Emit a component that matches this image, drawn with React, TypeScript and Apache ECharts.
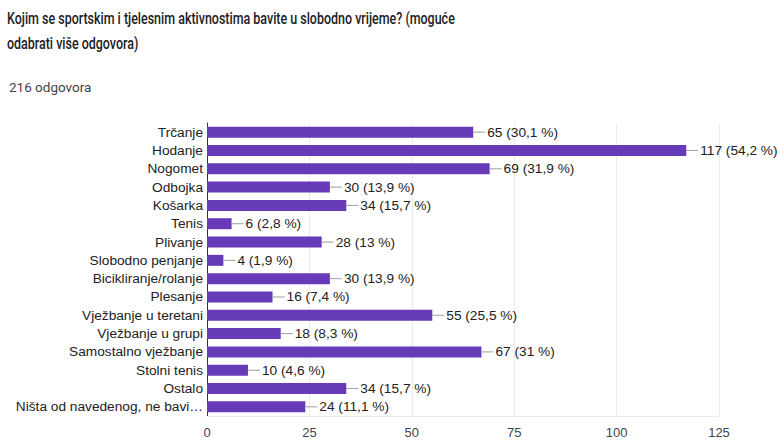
import React, { useEffect, useRef } from 'react';
import * as echarts from 'echarts';

const titleLines = [
  'Kojim se sportskim i tjelesnim aktivnostima bavite u slobodno vrijeme? (moguće',
  'odabrati više odgovora)',
];
const subtitle = '216 odgovora';

const categories = [
  'Trčanje',
  'Hodanje',
  'Nogomet',
  'Odbojka',
  'Košarka',
  'Tenis',
  'Plivanje',
  'Slobodno penjanje',
  'Bicikliranje/rolanje',
  'Plesanje',
  'Vježbanje u teretani',
  'Vježbanje u grupi',
  'Samostalno vježbanje',
  'Stolni tenis',
  'Ostalo',
  'Ništa od navedenog, ne bavi…',
];
const counts = [65, 117, 69, 30, 34, 6, 28, 4, 30, 16, 55, 18, 67, 10, 34, 24];
const percents = ['30,1', '54,2', '31,9', '13,9', '15,7', '2,8', '13', '1,9', '13,9', '7,4', '25,5', '8,3', '31', '4,6', '15,7', '11,1'];
const xMin = 0;
const xMax = 125;
const xInterval = 25;

export default function App() {
  const ref = useRef<HTMLDivElement>(null);
  useEffect(() => {
    document.body.style.margin = '0';
    const chart = echarts.init(ref.current!, null, { renderer: 'svg' });
    chart.setOption({
      animation: false,
      backgroundColor: '#ffffff',
      textStyle: { fontFamily: 'Liberation Sans, Arial, sans-serif' },
      graphic: [
        {
          type: 'text',
          left: 7,
          top: 6,
          scaleX: 0.78,
          style: {
            text: titleLines.join('\n'),
            fill: '#202124',
            font: '500 16px Roboto',
            lineHeight: 25,
          },
        },
        {
          type: 'text',
          left: 9,
          top: 80,
          style: {
            text: subtitle,
            fill: '#444444',
            font: '400 13.5px Roboto',
          },
        },
      ],
      grid: { left: 207, right: 60, top: 123, bottom: 25, containLabel: false },
      xAxis: {
        type: 'value',
        min: xMin,
        max: xMax,
        interval: xInterval,
        axisLine: { show: true, lineStyle: { color: '#ebebeb' } },
        axisTick: { show: false },
        splitLine: { show: true, lineStyle: { color: '#ebebeb' } },
        axisLabel: { color: '#444444', fontSize: 13, margin: 10 },
      },
      yAxis: {
        type: 'category',
        data: categories,
        inverse: true,
        axisLine: { show: true, lineStyle: { color: '#333333' } },
        axisTick: { show: false },
        axisLabel: { color: '#222222', fontSize: 13.7, margin: 4 },
      },
      series: [
        {
          type: 'bar',
          data: counts,
          barCategoryGap: '40%',
          itemStyle: { color: '#673ab7' },
          label: {
            show: true,
            position: 'right',
            distance: 0,
            formatter: (p: any) => `{l| }{t|${counts[p.dataIndex]} (${percents[p.dataIndex]} %)}`,
            rich: {
              l: { width: 12, height: 1, backgroundColor: '#9e9e9e' },
              t: { color: '#222222', fontSize: 13.7, padding: [0, 0, 0, 2] },
            },
          },
        },
      ],
    });
    return () => chart.dispose();
  }, []);
  return <div ref={ref} style={{ width: 779, height: 441 }} />;
}
